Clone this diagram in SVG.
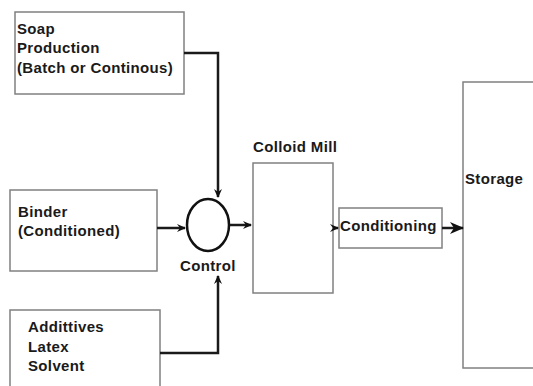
<svg xmlns="http://www.w3.org/2000/svg" width="533" height="386" viewBox="0 0 533 386">
<style>
.box{fill:#fff;stroke:#808080;stroke-width:1.5}
.t{font-family:"Liberation Sans",Arial,sans-serif;font-weight:bold;font-size:15px;letter-spacing:0.35px;fill:#1a1a1a}
.c{fill:none;stroke:#1a1a1a;stroke-width:2.5}
</style>
<defs>
<marker id="ah" markerWidth="10" markerHeight="10" refX="8" refY="5" orient="auto" markerUnits="userSpaceOnUse">
<path d="M0,1 L9,5 L0,9 L3,5 Z" fill="#111"/>
</marker>
<marker id="ahb" markerWidth="14" markerHeight="14" refX="13" refY="7" orient="auto" markerUnits="userSpaceOnUse">
<path d="M0,1 L14,7 L0,13 L4,7 Z" fill="#111"/>
</marker>
</defs>
<rect width="533" height="386" fill="#fff"/>
<g id="soap">
<rect class="box" x="15" y="12" width="169" height="82"/>
<text class="t" x="17" y="34">Soap</text>
<text class="t" x="17" y="53">Production</text>
<text class="t" x="17" y="73">(Batch or Continous)</text>
</g>
<g id="binder">
<rect class="box" x="10" y="190" width="147" height="81"/>
<text class="t" x="18" y="217">Binder</text>
<text class="t" x="18" y="236">(Conditioned)</text>
</g>
<g id="additives">
<rect class="box" x="10" y="310" width="150" height="90"/>
<text class="t" x="28" y="332">Addittives</text>
<text class="t" x="28" y="352">Latex</text>
<text class="t" x="28" y="371">Solvent</text>
</g>
<g id="control">
<ellipse cx="208" cy="225" rx="21" ry="26" fill="#fff" stroke="#111" stroke-width="2.5"/>
<text class="t" x="180" y="271">Control</text>
</g>
<g id="colloid">
<rect class="box" x="253" y="163" width="80" height="130"/>
<text class="t" x="253" y="152">Colloid Mill</text>
</g>
<g id="conditioning">
<rect class="box" x="339" y="208" width="103" height="40"/>
<text class="t" x="340" y="231">Conditioning</text>
</g>
<g id="storage">
<rect class="box" x="463" y="82" width="80" height="286"/>
<text class="t" x="465" y="184">Storage</text>
</g>
<g id="connectors">
<path class="c" d="M184,53 H218 V197" marker-end="url(#ah)"/>
<path class="c" d="M157,228 H185" marker-end="url(#ah)"/>
<path class="c" d="M160,353 H218 V276" marker-end="url(#ah)"/>
<path class="c" d="M230,225 H251" marker-end="url(#ah)"/>
<path class="c" stroke-width="1.5" d="M333,228 H338" marker-end="url(#ah)"/>
<path class="c" stroke-width="3.5" d="M442,228 H463" marker-end="url(#ahb)"/>
</g>
</svg>
